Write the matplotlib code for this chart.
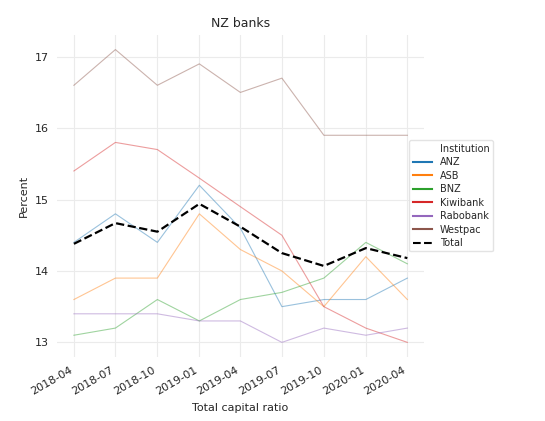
import matplotlib
matplotlib.use("Agg")
import matplotlib.pyplot as plt
from matplotlib.lines import Line2D
import pandas as pd

dates = pd.to_datetime(["2018-04-01", "2018-07-01", "2018-10-01", "2019-01-01", "2019-04-01",
                        "2019-07-01", "2019-10-01", "2020-01-01", "2020-04-01"])
anz = [14.4, 14.8, 14.4, 15.2, 14.6, 13.5, 13.6, 13.6, 13.9]
asb = [13.6, 13.9, 13.9, 14.8, 14.3, 14.0, 13.5, 14.2, 13.6]
bnz = [13.1, 13.2, 13.6, 13.3, 13.6, 13.7, 13.9, 14.4, 14.1]
kiwibank = [15.4, 15.8, 15.7, 15.3, 14.9, 14.5, 13.5, 13.2, 13.0]
rabobank = [13.4, 13.4, 13.4, 13.3, 13.3, 13.0, 13.2, 13.1, 13.2]
westpac = [16.6, 17.1, 16.6, 16.9, 16.5, 16.7, 15.9, 15.9, 15.9]
total = [14.38, 14.67, 14.55, 14.94, 14.62, 14.25, 14.07, 14.32, 14.18]

banks = ["ANZ", "ASB", "BNZ", "Kiwibank", "Rabobank", "Westpac"]
series = [anz, asb, bnz, kiwibank, rabobank, westpac]
colors = ["#1f77b4", "#ff7f0e", "#2ca02c", "#d62728", "#9467bd", "#8c564b"]

txt = "#262626"
plt.rcParams["font.family"] = "DejaVu Sans"
plt.rcParams["text.color"] = txt
plt.rcParams["axes.labelcolor"] = txt
plt.rcParams["xtick.color"] = txt
plt.rcParams["ytick.color"] = txt

fig = plt.figure(figsize=(5.45, 4.21), dpi=100)
ax = fig.add_axes([0.105, 0.152, 0.673, 0.765])

for name, vals, c in zip(banks, series, colors):
    ax.plot(dates, vals, color=c, alpha=0.45, linewidth=0.8)
ax.plot(dates, total, color="black", linestyle="--", linewidth=1.6)

ax.set_xticks(dates)
ax.set_xticklabels([d.strftime("%Y-%m") for d in dates])
for lab in ax.get_xticklabels():
    lab.set_rotation(30)
    lab.set_ha("right")
ax.set_yticks([13, 14, 15, 16, 17])

ax.grid(True, color="#ebebeb", linewidth=0.8)
ax.set_axisbelow(True)
for s in ax.spines.values():
    s.set_visible(False)
ax.tick_params(length=0, labelsize=8, pad=6)

ax.set_title("NZ banks", fontsize=9)
ax.set_xlabel("Total capital ratio", fontsize=8)
ax.set_ylabel("Percent", fontsize=8)

# seaborn-style legend: hue name as first entry with no handle
handles = [Line2D([], [], color="none")]
labels = ["Institution"]
for name, c in zip(banks, colors):
    handles.append(Line2D([], [], color=c, linewidth=1.5))
    labels.append(name)
handles.append(Line2D([], [], color="black", linestyle="--", linewidth=1.5))
labels.append("Total")
leg = fig.legend(handles, labels, loc="upper left", bbox_to_anchor=(0.751, 0.667),
                 bbox_transform=fig.transFigure, borderaxespad=0, fontsize=7,
                 handlelength=2, labelspacing=0.36, borderpad=0.35, frameon=True)
leg.get_frame().set_edgecolor("#dddddd")

fig.savefig("out.png", dpi=100)
